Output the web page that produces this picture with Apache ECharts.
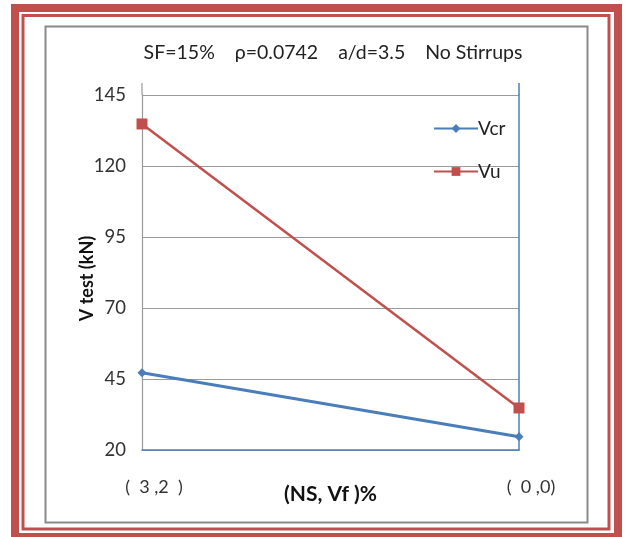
<!DOCTYPE html>
<html>
<head>
<meta charset="utf-8">
<script src="https://cdn.jsdelivr.net/npm/echarts@6/dist/echarts.min.js"></script>
<style>
  html, body { margin: 0; padding: 0; background: #fff; }
  #chart { width: 625px; height: 537px; }
</style>
</head>
<body>
<div id="chart"></div>
<script>
// Mix labels (NS, Vf) % and measured shear forces in kN
const categories = ['(  3 ,2  )', '(  0 ,0)'];
const vcr = [47.2, 24.7];
const vu = [134.8, 34.8];
const yTicks = { min: 20, max: 145, interval: 25 };

const FONT = 'Lato, "Open Sans", sans-serif';
const RED = '#c0504d';
const BLUE = '#4a7ebb';

const chart = echarts.init(document.getElementById('chart'), null, { renderer: 'canvas' });

chart.setOption({
  backgroundColor: '#ffffff',
  animation: false,
  title: {
    text: 'SF=15%    ρ=0.0742    a/d=3.5    No Stirrups',
    left: 328, top: 38, textAlign: 'center',
    textStyle: { fontFamily: FONT, fontSize: 19.5, fontWeight: 'normal', color: '#222' }
  },
  legend: {
    orient: 'vertical',
    left: 428, top: 114,
    itemWidth: 44, itemHeight: 11, itemGap: 24,
    textStyle: { fontFamily: FONT, fontSize: 19, color: '#222', padding: [0, 0, 0, -5] },
    data: ['Vcr', 'Vu']
  },
  grid: { left: 142, right: 106, top: 95, bottom: 87 },
  xAxis: {
    type: 'category',
    data: categories,
    boundaryGap: false,
    name: '(NS, Vf )%',
    nameLocation: 'middle',
    nameGap: 34,
    nameMoveOverlap: false,
    nameTextStyle: { fontFamily: FONT, fontSize: 21, fontWeight: 'bold', color: '#111' },
    axisLine: { lineStyle: { color: BLUE, width: 1.5 } },
    axisTick: { show: false },
    axisLabel: {
      margin: 28, fontFamily: FONT, fontSize: 18, color: '#333',
      padding: [0, 0, 0, 24]
    },
    splitLine: { show: false }
  },
  yAxis: [
    {
      type: 'value',
      min: yTicks.min, max: yTicks.max, interval: yTicks.interval,
      name: 'V test (kN)',
      nameLocation: 'middle',
      nameGap: 46,
      nameMoveOverlap: false,
      nameRotate: 90,
      nameTextStyle: { fontFamily: FONT, fontSize: 18, fontWeight: 'bold', color: '#111', padding: [0, 0, 0, -12] },
      axisLine: { show: true, lineStyle: { color: '#9a9a9a', width: 1.2 } },
      axisTick: { show: false },
      axisLabel: { margin: 16, fontFamily: FONT, fontSize: 18.5, color: '#333' },
      splitLine: { show: true, lineStyle: { color: '#9a9a9a', width: 1 } }
    },
    {
      type: 'value',
      position: 'right',
      min: yTicks.min, max: yTicks.max, interval: yTicks.interval,
      axisLine: { show: true, lineStyle: { color: BLUE, width: 1.5 } },
      axisTick: { show: false },
      axisLabel: { show: false },
      splitLine: { show: false }
    }
  ],
  series: [
    {
      name: 'Vcr', type: 'line', data: vcr,
      symbol: 'diamond', symbolSize: 9,
      lineStyle: { color: BLUE, width: 3 },
      itemStyle: { color: BLUE }
    },
    {
      name: 'Vu', type: 'line', data: vu,
      symbol: 'rect', symbolSize: 11,
      lineStyle: { color: RED, width: 2.5 },
      itemStyle: { color: RED }
    }
  ],
  graphic: [
    // double red page frame
    { type: 'rect', silent: true, z: 100,
      shape: { x: 15, y: 8, width: 603, height: 529 },
      style: { fill: null, stroke: RED, lineWidth: 8 } },
    { type: 'rect', silent: true, z: 100,
      shape: { x: 23, y: 15.5, width: 586, height: 513.5 },
      style: { fill: null, stroke: RED, lineWidth: 3 } },
    // gray chart-area border
    { type: 'rect', silent: true, z: 100,
      shape: { x: 45.5, y: 26.5, width: 542, height: 496 },
      style: { fill: null, stroke: '#8a8a8a', lineWidth: 2 } },
    // plot-area side borders rising above the top gridline
    { type: 'line', silent: true, z: 100,
      shape: { x1: 142, y1: 83, x2: 142, y2: 95 },
      style: { stroke: '#9a9a9a', lineWidth: 1.2 } },
    { type: 'line', silent: true, z: 100,
      shape: { x1: 519, y1: 83, x2: 519, y2: 95 },
      style: { stroke: BLUE, lineWidth: 1.5 } }
  ]
});
</script>
</body>
</html>
